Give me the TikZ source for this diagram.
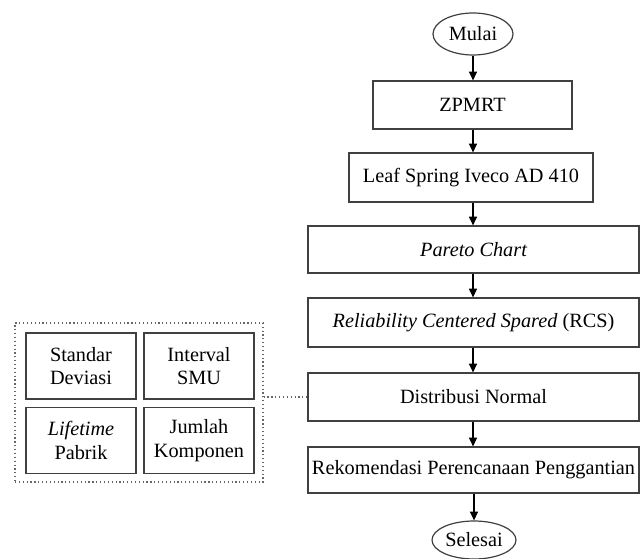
\documentclass[tikz,border=0pt]{standalone}
\usepackage{fontspec}
\setmainfont{Liberation Serif}
\usetikzlibrary{arrows.meta,shapes.geometric}
\newdimen\px \px=0.75pt
\begin{document}
\begin{tikzpicture}[x=0.75pt,y=-0.75pt,
  every node/.style={font=\fontsize{15.2}{17.5}\selectfont, text=black, inner sep=0pt},
  procbox/.style={draw=black!75, line width=0.9pt, rectangle, align=center},
  term/.style={draw=black!75, line width=0.9pt, ellipse, minimum width=80\px, minimum height=42\px},
  smallbox/.style={draw=black!75, line width=0.9pt, rectangle, align=center, minimum width=110\px, minimum height=66\px},
  flow/.style={draw=black, line width=0.9pt, -{Triangle[length=6.5pt,width=6pt]}},
  dotline/.style={draw=black!60, line width=0.9pt, dotted}]
\useasboundingbox (0,0) rectangle (641,559);
\node[term] (mulai) at (473,34) {Mulai};
\node[procbox, minimum width=199\px, minimum height=48\px] (zpmrt) at (472.5,105) {ZPMRT};
\node[procbox, minimum width=244\px, minimum height=49\px] (leaf) at (471,177.5) {Leaf Spring Iveco AD 410};
\node[procbox, minimum width=331\px, minimum height=47\px] (pareto) at (473.5,249.5) {\itshape Pareto Chart};
\node[procbox, minimum width=331\px, minimum height=49\px] (rcs) at (473.5,322.5) {\textit{Reliability Centered Spared} (RCS)};
\node[procbox, minimum width=331\px, minimum height=48\px] (dist) at (473.5,397) {Distribusi Normal};
\node[procbox, minimum width=331\px, minimum height=46\px] (rekom) at (473.5,470) {Rekomendasi Perencanaan Penggantian};
\node[term, minimum width=84\px, minimum height=38\px] (selesai) at (474,540) {Selesai};

\node[dotline, rectangle, minimum width=248\px, minimum height=159\px] (group) at (139,402.5) {};
\node[smallbox] (std) at (81,366) {Standar\\Deviasi};
\node[smallbox] (intv) at (199,366) {Interval\\SMU};
\node[smallbox] (life) at (81,440.5) {\textit{Lifetime}\\Pabrik};
\node[smallbox] (jml) at (199,440.5) {Jumlah\\Komponen};

\draw[flow] (mulai) -- (mulai |- zpmrt.north);
\draw[flow] (zpmrt.south -| mulai) -- (mulai |- leaf.north);
\draw[flow] (leaf.south -| mulai) -- (mulai |- pareto.north);
\draw[flow] (pareto.south -| mulai) -- (mulai |- rcs.north);
\draw[flow] (rcs.south -| mulai) -- (mulai |- dist.north);
\draw[flow] (dist.south -| mulai) -- (mulai |- rekom.north);
\draw[flow] (rekom.south -| selesai) -- (selesai.north);
\draw[dotline] (group.east |- dist.west) -- (dist.west);
\end{tikzpicture}
\end{document}
